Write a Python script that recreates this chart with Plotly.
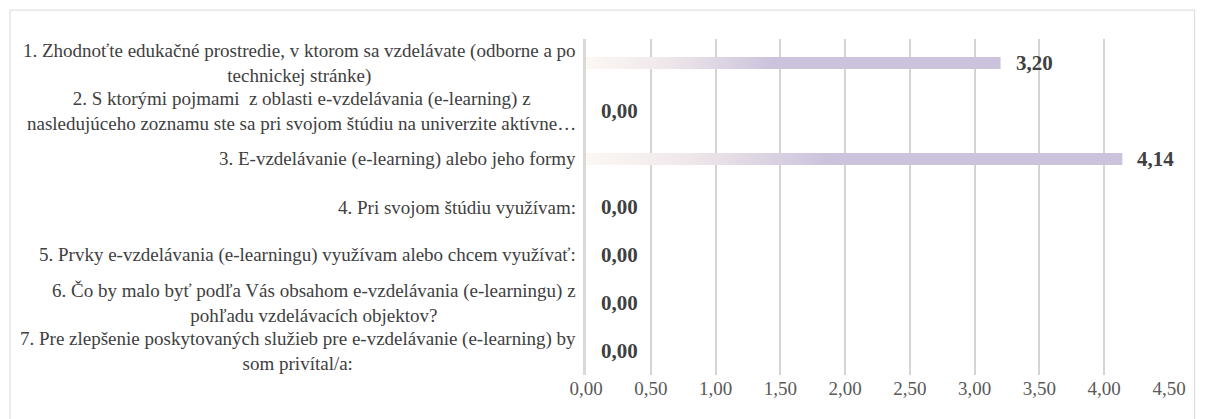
import plotly.graph_objects as go

# Data
questions = [
    "1. Zhodnoťte edukačné prostredie, v ktorom sa vzdelávate (odborne a po<br>technickej stránke)",
    "2. S ktorými pojmami  z oblasti e-vzdelávania (e-learning) z<br>nasledujúceho zoznamu ste sa pri svojom štúdiu na univerzite aktívne…",
    "3. E-vzdelávanie (e-learning) alebo jeho formy",
    "4. Pri svojom štúdiu využívam:",
    "5. Prvky e-vzdelávania (e-learningu) využívam alebo chcem využívať:",
    "6. Čo by malo byť podľa Vás obsahom e-vzdelávania (e-learningu) z<br>pohľadu vzdelávacích objektov?",
    "7. Pre zlepšenie poskytovaných služieb pre e-vzdelávanie (e-learning) by<br>som privítal/a:",
]
scores = [3.20, 0.00, 4.14, 0.00, 0.00, 0.00, 0.00]
x_ticks = [0, 0.5, 1, 1.5, 2, 2.5, 3, 3.5, 4, 4.5]

FONT = "Liberation Serif, Times New Roman, Times, serif"
BAR_HALF = 0.125
GRADIENT = [[0, "#FCF8F4"], [0.2, "#EFE6EA"], [0.45, "#CBC3DC"], [1, "#CBC3DC"]]

fig = go.Figure()

# horizontal bars drawn as filled shapes so they can carry a gradient
for i, v in enumerate(scores):
    if v <= 0:
        continue
    fig.add_trace(
        go.Scatter(
            x=[0, v, v, 0, 0],
            y=[i - BAR_HALF, i - BAR_HALF, i + BAR_HALF, i + BAR_HALF, i - BAR_HALF],
            mode="lines",
            line=dict(width=0),
            fill="toself",
            fillgradient=dict(type="horizontal", colorscale=GRADIENT),
            hoverinfo="skip",
            showlegend=False,
        )
    )

# value labels
for i, v in enumerate(scores):
    fig.add_annotation(
        x=v, y=i, xref="x", yref="y",
        text=f"{v:.2f}".replace(".", ","),
        showarrow=False, xanchor="left", xshift=13,
        font=dict(family=FONT, size=21, color="#404040", weight="bold"),
    )

# category labels (centred multi-line blocks, right aligned to the axis)
for i, q in enumerate(questions):
    fig.add_annotation(
        x=0, y=i, xref="paper", yref="y",
        text=q, showarrow=False, xanchor="right", align="center", xshift=-8,
        font=dict(family=FONT, size=19, color="#404040"),
    )

# chart frame
fig.add_shape(
    type="rect", xref="paper", yref="paper",
    x0=-0.988, x1=1.044, y0=-0.3, y1=1.086,
    line=dict(color="#D9D9D9", width=1), fillcolor="rgba(0,0,0,0)", layer="above",
)

fig.update_layout(
    width=1190,
    height=411,
    margin=dict(l=578, r=27, t=31, b=44),
    paper_bgcolor="white",
    plot_bgcolor="white",
    separators=",.",
    showlegend=False,
    xaxis=dict(
        range=[0, 4.5],
        tickmode="array",
        tickvals=x_ticks,
        tickformat=".2f",
        showgrid=True,
        gridcolor="#D4D4D4",
        gridwidth=1.5,
        zeroline=False,
        showline=False,
        ticks="",
        tickfont=dict(family=FONT, size=19, color="#595959"),
        fixedrange=True,
    ),
    yaxis=dict(
        range=[6.5, -0.5],
        showticklabels=False,
        showgrid=False,
        zeroline=False,
        showline=True,
        linecolor="#D9D9D9",
        linewidth=3,
        ticks="",
        fixedrange=True,
    ),
)

fig.write_html("out.html")
